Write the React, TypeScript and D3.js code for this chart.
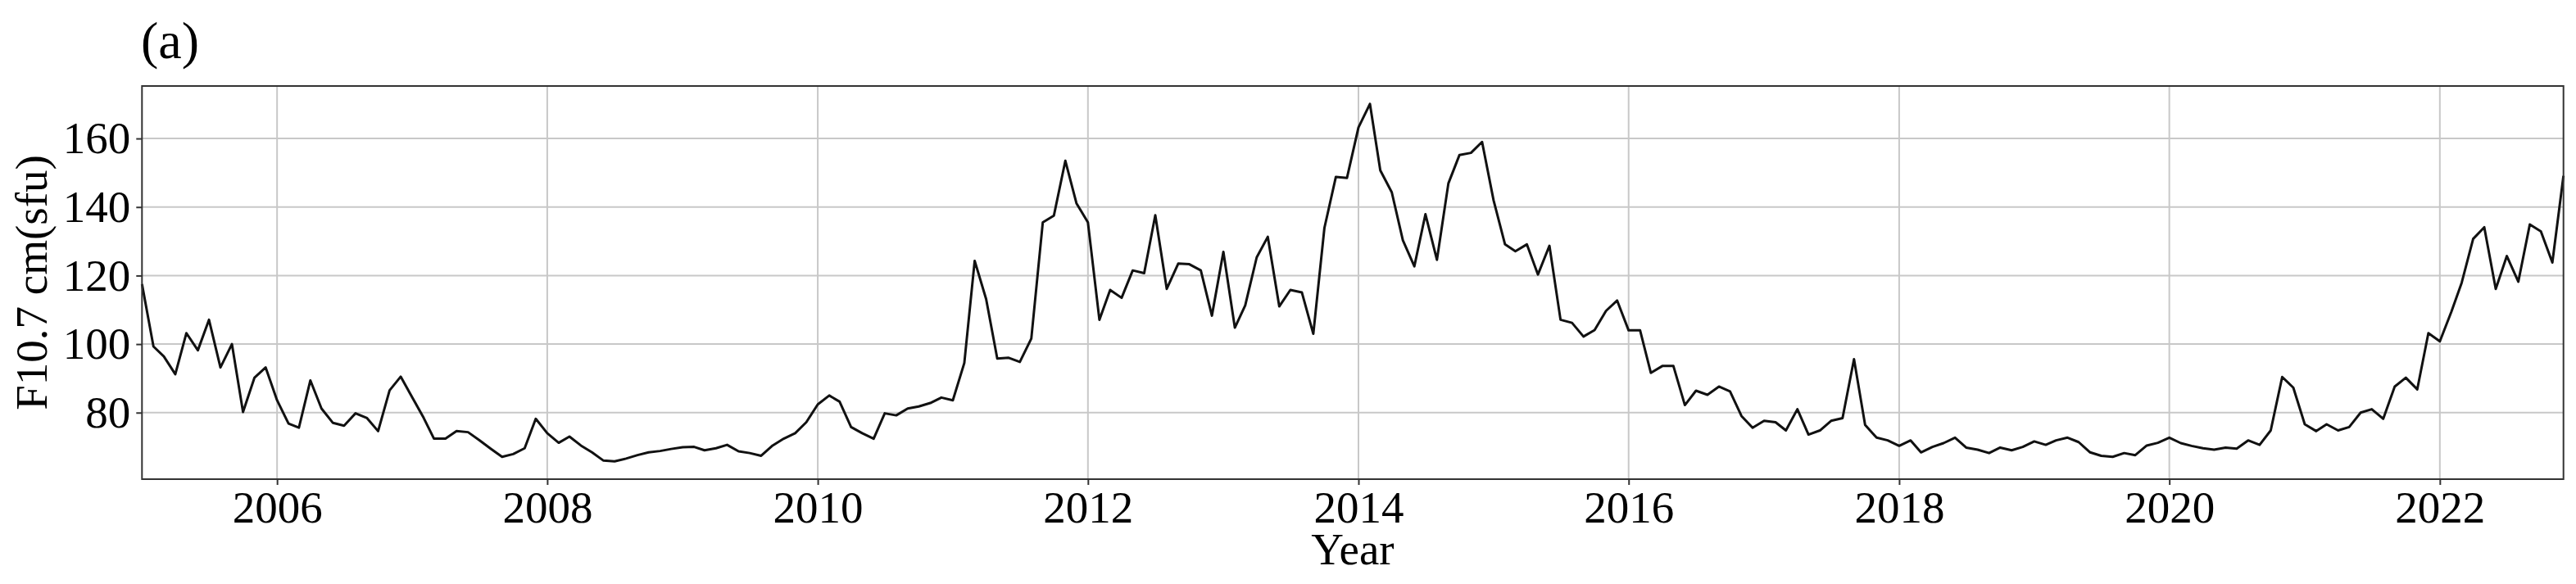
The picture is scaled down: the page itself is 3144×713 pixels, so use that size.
import React, { useRef, useEffect } from "react";
import * as d3 from "d3";

// monthly mean F10.7 flux (sfu), Jan..Dec of each year
const START_YEAR = 2005;
const f107_2005 = [117.5, 99.3, 96.4, 91.2, 103.2, 98.2, 107.1, 93.2, 100.0, 80.2, 90.2, 93.2];
const f107_2006 = [83.6, 76.8, 75.6, 89.4, 81.2, 77.0, 76.2, 79.8, 78.4, 74.6, 86.5, 90.5];
const f107_2007 = [84.5, 78.5, 72.4, 72.4, 74.6, 74.3, 72.0, 69.5, 67.1, 67.9, 69.6, 78.2];
const f107_2008 = [74.0, 71.2, 73.0, 70.4, 68.4, 66.0, 65.8, 66.6, 67.6, 68.4, 68.8, 69.4];
const f107_2009 = [69.9, 70.0, 69.0, 69.6, 70.6, 68.7, 68.2, 67.4, 70.4, 72.4, 74.0, 77.2];
const f107_2010 = [82.4, 85.0, 83.2, 75.8, 74.0, 72.4, 79.8, 79.2, 81.2, 81.8, 82.8, 84.4];
const f107_2011 = [83.6, 94.5, 124.3, 113.1, 95.8, 96.0, 94.8, 101.6, 135.5, 137.5, 153.5, 141.1];
const f107_2012 = [135.5, 107.1, 115.8, 113.5, 121.5, 120.7, 137.6, 116.1, 123.5, 123.3, 121.5, 108.3];
const f107_2013 = [126.9, 104.8, 111.3, 125.3, 131.3, 111.0, 115.8, 115.1, 103.0, 133.9, 148.8, 148.5];
const f107_2014 = [163.2, 170.1, 150.7, 144.3, 130.3, 122.7, 137.9, 124.6, 146.9, 155.2, 155.8, 159.0];
const f107_2015 = [142.0, 129.1, 127.1, 129.1, 120.3, 128.7, 107.1, 106.2, 102.2, 104.1, 109.7, 112.7];
const f107_2016 = [104.0, 104.0, 91.6, 93.6, 93.6, 82.2, 86.4, 85.2, 87.6, 86.2, 79.0, 75.6];
const f107_2017 = [77.6, 77.2, 74.8, 81.0, 73.6, 74.8, 77.6, 78.4, 95.6, 76.4, 72.7, 71.9];
const f107_2018 = [70.3, 71.9, 68.4, 70.0, 71.1, 72.7, 69.8, 69.2, 68.2, 69.8, 69.0, 70.0];
const f107_2019 = [71.6, 70.6, 71.9, 72.7, 71.4, 68.4, 67.4, 67.1, 68.2, 67.6, 70.4, 71.2];
const f107_2020 = [72.7, 71.1, 70.3, 69.6, 69.2, 69.8, 69.5, 71.9, 70.6, 74.8, 90.4, 87.3];
const f107_2021 = [76.6, 74.6, 76.6, 74.8, 75.8, 80.0, 81.0, 78.2, 87.6, 90.2, 86.8, 103.2];
const f107_2022 = [100.8, 109.4, 117.9, 130.7, 134.1, 116.1, 125.7, 118.2, 134.9, 132.9, 123.8, 149.1];

const yearly = [
  f107_2005, f107_2006, f107_2007, f107_2008, f107_2009, f107_2010,
  f107_2011, f107_2012, f107_2013, f107_2014, f107_2015, f107_2016,
  f107_2017, f107_2018, f107_2019, f107_2020, f107_2021, f107_2022,
];

const xTickYears = [2006, 2008, 2010, 2012, 2014, 2016, 2018, 2020, 2022];
const yTicks = [80, 100, 120, 140, 160];

const WIDTH = 3144;
const HEIGHT = 713;
const FONT = "'Liberation Serif', 'Times New Roman', serif";

type Point = { date: Date; value: number };

const F107Chart = () => {
  const svgRef = useRef<SVGSVGElement | null>(null);

  useEffect(() => {
    const svg = d3.select(svgRef.current);
    svg.selectAll("*").remove();

    const margin = { top: 105, right: 15.3, bottom: 128, left: 173.3 };
    const innerWidth = WIDTH - margin.left - margin.right;
    const innerHeight = HEIGHT - margin.top - margin.bottom;

    const data: Point[] = [];
    yearly.forEach((vals, yi) => {
      vals.forEach((v, m) => {
        data.push({ date: new Date(Date.UTC(START_YEAR + yi, m, 1)), value: v });
      });
    });

    const xScale = d3
      .scaleUtc()
      .domain(d3.extent(data, d => d.date) as [Date, Date])
      .range([0, innerWidth]);

    // matplotlib-like 5% margins
    const [lo, hi] = d3.extent(data, d => d.value) as [number, number];
    const pad = (hi - lo) * 0.05;
    const yScale = d3
      .scaleLinear()
      .domain([lo - pad, hi + pad])
      .range([innerHeight, 0]);

    const chart = svg
      .append("g")
      .attr("transform", `translate(${margin.left}, ${margin.top})`);

    const xTicks = xTickYears.map(y => new Date(Date.UTC(y, 0, 1)));

    // grid
    chart
      .append("g")
      .selectAll("line")
      .data(xTicks)
      .join("line")
      .attr("x1", d => xScale(d))
      .attr("x2", d => xScale(d))
      .attr("y1", 0)
      .attr("y2", innerHeight)
      .attr("stroke", "#c8c8c8")
      .attr("stroke-width", 2);

    chart
      .append("g")
      .selectAll("line")
      .data(yTicks)
      .join("line")
      .attr("x1", 0)
      .attr("x2", innerWidth)
      .attr("y1", d => yScale(d))
      .attr("y2", d => yScale(d))
      .attr("stroke", "#c8c8c8")
      .attr("stroke-width", 2);

    // axes
    const xAxis = chart
      .append("g")
      .attr("transform", `translate(0, ${innerHeight})`)
      .call(
        d3
          .axisBottom(xScale)
          .tickValues(xTicks)
          .tickFormat(d => d3.utcFormat("%Y")(d as Date))
          .tickSize(7)
          .tickPadding(7)
      );

    const yAxis = chart
      .append("g")
      .call(d3.axisLeft(yScale).tickValues(yTicks).tickSize(7).tickPadding(7));

    [xAxis, yAxis].forEach(ax => {
      ax.select(".domain").remove();
      ax.selectAll(".tick line").attr("stroke", "#333").attr("stroke-width", 2);
      ax.selectAll(".tick text")
        .attr("fill", "#000")
        .style("font-family", FONT)
        .style("font-size", "55px");
    });

    // line
    const lineGenerator = d3
      .line<Point>()
      .x(d => xScale(d.date))
      .y(d => yScale(d.value));

    chart
      .append("path")
      .datum(data)
      .attr("fill", "none")
      .attr("stroke", "#111")
      .attr("stroke-width", 3)
      .attr("stroke-linejoin", "round")
      .attr("d", lineGenerator);

    // frame
    chart
      .append("rect")
      .attr("x", 0)
      .attr("y", 0)
      .attr("width", innerWidth)
      .attr("height", innerHeight)
      .attr("fill", "none")
      .attr("stroke", "#333")
      .attr("stroke-width", 2);

    // labels
    svg
      .append("text")
      .attr("x", margin.left + innerWidth / 2)
      .attr("y", 689)
      .attr("text-anchor", "middle")
      .style("font-family", FONT)
      .style("font-size", "55px")
      .text("Year");

    svg
      .append("text")
      .attr("transform", `translate(57, ${margin.top + innerHeight / 2}) rotate(-90)`)
      .attr("text-anchor", "middle")
      .style("font-family", FONT)
      .style("font-size", "55px")
      .text("F10.7 cm(sfu)");

    svg
      .append("text")
      .attr("x", 172)
      .attr("y", 71)
      .style("font-family", FONT)
      .style("font-size", "64px")
      .text("(a)");
  }, []);

  return (
    <svg
      ref={svgRef}
      width={WIDTH}
      height={HEIGHT}
      style={{ position: "absolute", left: 0, top: 0, background: "#fff" }}
    />
  );
};

export default function App() {
  return <F107Chart />;
}
